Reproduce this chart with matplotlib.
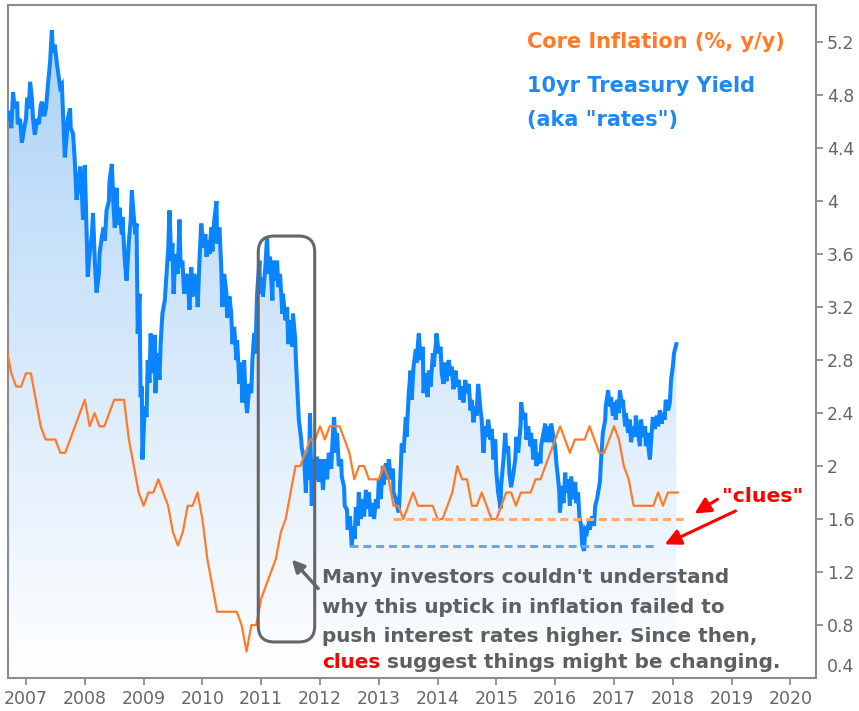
import numpy as np
import matplotlib
matplotlib.use('Agg')
import matplotlib.pyplot as plt
from matplotlib.patches import FancyBboxPatch
from matplotlib.transforms import IdentityTransform, ScaledTranslation
from matplotlib.colors import LinearSegmentedColormap

# core inflation (%, y/y), monthly, Sep 2006 .. Feb 2018
core = [2.9, 2.7, 2.6, 2.6,
        2.7, 2.7, 2.5, 2.3, 2.2, 2.2, 2.2, 2.1, 2.1, 2.2, 2.3, 2.4,   # 2007
        2.5, 2.3, 2.4, 2.3, 2.3, 2.4, 2.5, 2.5, 2.5, 2.2, 2.0, 1.8,   # 2008
        1.7, 1.8, 1.8, 1.9, 1.8, 1.7, 1.5, 1.4, 1.5, 1.7, 1.7, 1.8,   # 2009
        1.6, 1.3, 1.1, 0.9, 0.9, 0.9, 0.9, 0.9, 0.8, 0.6, 0.8, 0.8,   # 2010
        1.0, 1.1, 1.2, 1.3, 1.5, 1.6, 1.8, 2.0, 2.0, 2.1, 2.2, 2.2,   # 2011
        2.3, 2.2, 2.3, 2.3, 2.3, 2.2, 2.1, 1.9, 2.0, 2.0, 1.9, 1.9,   # 2012
        1.9, 2.0, 1.9, 1.7, 1.7, 1.6, 1.7, 1.8, 1.7, 1.7, 1.7, 1.7,   # 2013
        1.6, 1.6, 1.7, 1.8, 2.0, 1.9, 1.9, 1.7, 1.7, 1.8, 1.7, 1.6,   # 2014
        1.6, 1.7, 1.8, 1.8, 1.7, 1.8, 1.8, 1.8, 1.9, 1.9, 2.0, 2.1,   # 2015
        2.2, 2.3, 2.2, 2.1, 2.2, 2.2, 2.2, 2.3, 2.2, 2.1, 2.1, 2.2,   # 2016
        2.3, 2.2, 2.0, 1.9, 1.7, 1.7, 1.7, 1.7, 1.7, 1.8, 1.7, 1.8,   # 2017
        1.8, 1.8]                                                     # 2018
core_start = 2006 + 8 / 12.0

# 10yr treasury yield (decimal year, %)
rates_t = [2006.71, 2006.73, 2006.75, 2006.78, 2006.81, 2006.85, 2006.86, 2006.90, 2006.93, 2006.97,
           2007.00, 2007.02, 2007.05, 2007.07, 2007.10, 2007.12, 2007.15, 2007.19, 2007.22, 2007.25,
           2007.27, 2007.31, 2007.34, 2007.37, 2007.41, 2007.44, 2007.46, 2007.49, 2007.53, 2007.54,
           2007.58, 2007.61, 2007.64, 2007.66, 2007.69, 2007.71, 2007.75, 2007.76, 2007.80, 2007.83,
           2007.86, 2007.90, 2007.92, 2007.95, 2007.97, 2008.00, 2008.02, 2008.05, 2008.08, 2008.12,
           2008.14, 2008.17, 2008.20, 2008.24, 2008.25, 2008.29, 2008.32, 2008.34, 2008.37, 2008.41,
           2008.42, 2008.46, 2008.49, 2008.51, 2008.54, 2008.56, 2008.59, 2008.63, 2008.64, 2008.68,
           2008.71, 2008.75, 2008.78, 2008.80, 2008.83, 2008.86, 2008.88, 2008.90, 2008.93, 2008.95,
           2008.97, 2008.98, 2009.02, 2009.05, 2009.07, 2009.10, 2009.12, 2009.15, 2009.19, 2009.20,
           2009.24, 2009.27, 2009.29, 2009.32, 2009.36, 2009.39, 2009.42, 2009.44, 2009.47, 2009.49,
           2009.51, 2009.54, 2009.58, 2009.61, 2009.63, 2009.66, 2009.69, 2009.73, 2009.76, 2009.78,
           2009.81, 2009.83, 2009.86, 2009.90, 2009.92, 2009.95, 2009.98, 2010.02, 2010.05, 2010.07,
           2010.10, 2010.12, 2010.15, 2010.17, 2010.20, 2010.24, 2010.25, 2010.29, 2010.32, 2010.34,
           2010.37, 2010.41, 2010.42, 2010.46, 2010.49, 2010.51, 2010.54, 2010.58, 2010.59, 2010.63,
           2010.66, 2010.68, 2010.71, 2010.73, 2010.76, 2010.80, 2010.83, 2010.85, 2010.88, 2010.90,
           2010.93, 2010.97, 2010.98, 2011.02, 2011.03, 2011.07, 2011.10, 2011.12, 2011.15, 2011.19,
           2011.20, 2011.24, 2011.27, 2011.29, 2011.32, 2011.36, 2011.37, 2011.41, 2011.44, 2011.46,
           2011.49, 2011.53, 2011.54, 2011.58, 2011.59, 2011.63, 2011.64, 2011.68, 2011.69, 2011.73,
           2011.76, 2011.78, 2011.81, 2011.83, 2011.86, 2011.90, 2011.93, 2011.95, 2011.98, 2012.02,
           2012.05, 2012.08, 2012.12, 2012.15, 2012.19, 2012.22, 2012.24, 2012.27, 2012.29, 2012.32,
           2012.36, 2012.37, 2012.41, 2012.42, 2012.46, 2012.47, 2012.51, 2012.54, 2012.56, 2012.59,
           2012.61, 2012.64, 2012.66, 2012.69, 2012.73, 2012.75, 2012.78, 2012.81, 2012.83, 2012.86,
           2012.90, 2012.92, 2012.95, 2012.98, 2013.00, 2013.03, 2013.07, 2013.08, 2013.12, 2013.15,
           2013.17, 2013.20, 2013.24, 2013.25, 2013.29, 2013.32, 2013.34, 2013.37, 2013.39, 2013.42,
           2013.46, 2013.47, 2013.51, 2013.54, 2013.56, 2013.59, 2013.63, 2013.64, 2013.68, 2013.71,
           2013.75, 2013.76, 2013.80, 2013.83, 2013.85, 2013.88, 2013.92, 2013.93, 2013.97, 2013.98,
           2014.02, 2014.05, 2014.07, 2014.10, 2014.12, 2014.15, 2014.19, 2014.22, 2014.24, 2014.27,
           2014.31, 2014.32, 2014.36, 2014.39, 2014.41, 2014.44, 2014.47, 2014.49, 2014.53, 2014.56,
           2014.58, 2014.61, 2014.64, 2014.66, 2014.69, 2014.73, 2014.75, 2014.78, 2014.81, 2014.83,
           2014.86, 2014.90, 2014.92, 2014.95, 2014.98, 2015.00, 2015.03, 2015.07, 2015.08, 2015.12,
           2015.15, 2015.17, 2015.20, 2015.22, 2015.25, 2015.29, 2015.32, 2015.34, 2015.37, 2015.41,
           2015.42, 2015.46, 2015.49, 2015.51, 2015.54, 2015.58, 2015.59, 2015.63, 2015.66, 2015.68,
           2015.71, 2015.75, 2015.76, 2015.80, 2015.83, 2015.85, 2015.88, 2015.92, 2015.93, 2015.97,
           2016.00, 2016.02, 2016.05, 2016.07, 2016.08, 2016.12, 2016.14, 2016.17, 2016.19, 2016.22,
           2016.25, 2016.27, 2016.31, 2016.34, 2016.36, 2016.39, 2016.41, 2016.44, 2016.46, 2016.49,
           2016.51, 2016.54, 2016.58, 2016.59, 2016.63, 2016.66, 2016.68, 2016.71, 2016.73, 2016.76,
           2016.78, 2016.81, 2016.85, 2016.86, 2016.90, 2016.92, 2016.95, 2016.98, 2017.00, 2017.03,
           2017.05, 2017.08, 2017.10, 2017.14, 2017.15, 2017.19, 2017.20, 2017.24, 2017.27, 2017.29,
           2017.32, 2017.36, 2017.37, 2017.41, 2017.44, 2017.46, 2017.49, 2017.53, 2017.54, 2017.58,
           2017.59, 2017.61, 2017.64, 2017.66, 2017.69, 2017.73, 2017.75, 2017.78, 2017.81, 2017.83,
           2017.86, 2017.88, 2017.92, 2017.95, 2017.97, 2018.00, 2018.02, 2018.06]
rates_v = [4.62, 4.68, 4.55, 4.82, 4.70, 4.75, 4.58, 4.62, 4.44, 4.55,
           4.62, 4.78, 4.70, 4.90, 4.78, 4.62, 4.50, 4.62, 4.58, 4.72,
           4.75, 4.64, 4.70, 4.86, 5.05, 5.29, 5.12, 5.18, 5.02, 4.99,
           4.86, 4.88, 4.55, 4.33, 4.48, 4.62, 4.70, 4.55, 4.51, 4.30,
           4.01, 4.15, 4.26, 4.05, 3.86, 4.27, 3.95, 3.43, 3.60, 3.75,
           3.91, 3.55, 3.31, 3.45, 3.60, 3.73, 3.80, 3.70, 3.93, 4.00,
           4.15, 4.28, 3.95, 3.80, 4.10, 3.82, 3.95, 3.75, 3.88, 3.55,
           3.40, 3.70, 3.85, 4.08, 3.90, 3.75, 3.83, 3.00, 3.30, 2.52,
           2.60, 2.05, 2.45, 2.37, 2.80, 2.63, 3.00, 2.70, 2.99, 2.55,
           2.85, 2.65, 2.93, 3.15, 3.25, 3.45, 3.65, 3.93, 3.55, 3.68,
           3.30, 3.60, 3.45, 3.86, 3.50, 3.55, 3.30, 3.45, 3.35, 3.18,
           3.50, 3.28, 3.45, 3.38, 3.20, 3.55, 3.83, 3.65, 3.75, 3.58,
           3.70, 3.60, 3.80, 3.62, 3.85, 4.00, 3.68, 3.80, 3.50, 3.20,
           3.45, 3.30, 3.12, 3.28, 3.15, 2.92, 3.05, 2.80, 2.95, 2.62,
           2.78, 2.48, 2.80, 2.55, 2.40, 2.62, 2.55, 2.80, 3.00, 2.85,
           3.30, 3.55, 3.30, 3.42, 3.28, 3.50, 3.73, 3.45, 3.58, 3.25,
           3.55, 3.40, 3.55, 3.35, 3.45, 3.15, 3.30, 3.10, 3.20, 2.92,
           3.10, 2.90, 3.15, 2.95, 2.80, 2.45, 2.35, 2.20, 2.14, 2.05,
           1.80, 2.10, 1.90, 2.40, 1.70, 2.05, 1.90, 2.07, 1.88, 2.05,
           1.82, 2.05, 1.90, 2.10, 1.98, 2.25, 2.37, 2.10, 2.25, 2.00,
           2.05, 1.92, 1.84, 1.70, 1.67, 1.52, 1.62, 1.39, 1.54, 1.45,
           1.69, 1.55, 1.80, 1.60, 1.75, 1.62, 1.82, 1.68, 1.80, 1.62,
           1.72, 1.60, 1.75, 1.68, 1.90, 1.75, 2.00, 1.86, 2.02, 1.90,
           2.05, 1.90, 1.98, 1.80, 1.75, 1.68, 1.65, 1.95, 2.17, 2.10,
           2.37, 2.22, 2.55, 2.72, 2.50, 2.75, 2.88, 2.78, 3.00, 2.80,
           2.90, 2.55, 2.70, 2.52, 2.72, 2.60, 2.85, 2.75, 2.92, 3.00,
           2.85, 2.90, 2.70, 2.62, 2.78, 2.64, 2.80, 2.68, 2.75, 2.58,
           2.72, 2.60, 2.65, 2.50, 2.60, 2.48, 2.65, 2.55, 2.62, 2.42,
           2.50, 2.33, 2.45, 2.38, 2.62, 2.42, 2.35, 2.10, 2.30, 2.22,
           2.35, 2.20, 2.28, 2.05, 2.20, 1.95, 1.80, 1.68, 1.85, 2.05,
           2.25, 2.10, 2.15, 1.95, 1.84, 1.95, 2.05, 2.22, 2.10, 2.30,
           2.48, 2.35, 2.40, 2.20, 2.30, 2.15, 2.25, 2.05, 2.20, 2.00,
           2.10, 2.02, 2.15, 2.25, 2.32, 2.18, 2.30, 2.18, 2.32, 2.22,
           2.14, 2.02, 1.90, 1.80, 1.65, 1.85, 1.72, 1.95, 1.80, 1.90,
           1.70, 1.92, 1.75, 1.88, 1.72, 1.80, 1.62, 1.55, 1.40, 1.36,
           1.52, 1.50, 1.60, 1.52, 1.62, 1.55, 1.70, 1.75, 1.80, 1.88,
           2.05, 2.25, 2.35, 2.45, 2.57, 2.45, 2.52, 2.38, 2.48, 2.35,
           2.50, 2.40, 2.57, 2.45, 2.50, 2.30, 2.40, 2.25, 2.35, 2.18,
           2.30, 2.22, 2.38, 2.25, 2.15, 2.35, 2.22, 2.30, 2.15, 2.25,
           2.12, 2.05, 2.25, 2.37, 2.28, 2.38, 2.30, 2.42, 2.32, 2.40,
           2.35, 2.50, 2.42, 2.48, 2.65, 2.75, 2.85, 2.92]

year_ticks = list(range(2007, 2021))
rate_ticks = [0.4, 0.8, 1.2, 1.6, 2.0, 2.4, 2.8, 3.2, 3.6, 4.0, 4.4, 4.8, 5.2]

# "clues" reference levels
core_floor = 1.6
rates_floor = 1.4

ORANGE = '#FF7A29'
BLUE = '#0A84FF'
GRAY = '#5f5f5f'

plt.rcParams['font.family'] = ['DejaVu Sans']

fig = plt.figure(figsize=(8.59, 7.11), dpi=100)
ax = fig.add_axes([8 / 859, 1 - 678 / 711, 808 / 859, 673 / 711])
ax.set_xlim(2006.694, 2020.435)
ax.set_ylim(0.4, 5.48)

core_t = core_start + np.arange(len(core)) / 12.0

# gradient fill under the yield line
cmap = LinearSegmentedColormap.from_list('fill', ['#ffffff', '#aad1f7'])
grad = np.linspace(0, 1, 256).reshape(-1, 1)
img = ax.imshow(grad, cmap=cmap, origin='lower', aspect='auto',
                extent=[2006.694, 2020.435, 0.4, 5.48], zorder=1)
poly = ax.fill_between(rates_t, rates_v, 0.4, color='none', lw=0)
img.set_clip_path(poly.get_paths()[0], transform=ax.transData)

ax.plot(rates_t, rates_v, color=BLUE, lw=2.9, solid_joinstyle='miter', zorder=3)
ax.plot(core_t, core, color=ORANGE, lw=1.6, zorder=4)

# dashed "floor" lines
ax.plot([2013.24, 2018.26], [core_floor, core_floor], color='#FBAA72',
        lw=2.2, ls=(0, (2.6, 1.6)), zorder=5)
ax.plot([2012.51, 2017.70], [rates_floor, rates_floor], color='#5DAAF7',
        lw=2.2, ls=(0, (2.6, 1.6)), zorder=5)

# axes styling
for s in ax.spines.values():
    s.set_color('#8c8c8c')
    s.set_linewidth(1.5)
ax.yaxis.tick_right()
ax.set_yticks(rate_ticks)
ax.set_yticklabels(['%g' % v for v in rate_ticks])
ax.set_xticks(year_ticks)
ax.set_xticklabels([str(y) for y in year_ticks])
ax.tick_params(axis='both', colors='#8c8c8c', labelcolor='#666666', labelsize=12.5,
               length=5, width=1.3, direction='out')
ax.tick_params(axis='y', pad=3)
ax.tick_params(axis='x', pad=4)

# bottom label sits a bit higher and has no tick mark
t0 = ax.yaxis.get_major_ticks()[0]
t0.tick2line.set_visible(False)
t0.label2.set_transform(t0.label2.get_transform() +
                        ScaledTranslation(0, 13 / 100, fig.dpi_scale_trans))

# legend texts
ax.text(2015.52, 5.2, 'Core Inflation (%, y/y)', color=ORANGE, fontsize=15,
        fontweight='bold', va='center', ha='left')
ax.text(2015.52, 4.87, '10yr Treasury Yield', color='#1E88F5', fontsize=15,
        fontweight='bold', va='center', ha='left')
ax.text(2015.52, 4.61, '(aka "rates")', color='#1E88F5', fontsize=15,
        fontweight='bold', va='center', ha='left')

# rounded box around 2011
x0, y0 = ax.transData.transform((2010.95, 0.672))
x1, y1 = ax.transData.transform((2011.91, 3.736))
box = FancyBboxPatch((x0, y0), x1 - x0, y1 - y0,
                     boxstyle='round,pad=0,rounding_size=16',
                     transform=IdentityTransform(), fill=False,
                     ec='#666666', lw=2.2, zorder=6)
fig.add_artist(box)

ax.annotate('', xy=(2011.49, 1.31), xytext=(2012.0, 1.06),
            arrowprops=dict(arrowstyle='-|>', color='#666666', lw=2.5,
                            mutation_scale=18), zorder=7)

lines = ["Many investors couldn't understand",
         "why this uptick in inflation failed to",
         "push interest rates higher. Since then,"]
baselines = [1.117, 0.891, 0.672]
for s, yb in zip(lines, baselines):
    ax.text(2012.03, yb, s, color=GRAY, fontsize=14.4, fontweight='bold',
            va='baseline', ha='left', zorder=8)
tc = ax.text(2012.03, 0.475, 'clues', color='#FF0000', fontsize=14.4,
             fontweight='bold', va='baseline', ha='left', zorder=8)
ax.annotate(' suggest things might be changing.', xy=(1, 0), xycoords=tc,
            va='bottom', ha='left', color=GRAY, fontsize=14.4,
            fontweight='bold', zorder=8)

# red "clues" pointers
ax.text(2019.52, 1.77, '"clues"', color='#FF0000', fontsize=14.7,
        fontweight='bold', va='center', ha='center', zorder=8)
ax.annotate('', xy=(2018.33, 1.63), xytext=(2018.80, 1.76),
            arrowprops=dict(arrowstyle='-|>', color='#FF0000', lw=2.2,
                            mutation_scale=24), zorder=8)
ax.annotate('', xy=(2017.82, 1.40), xytext=(2019.11, 1.67),
            arrowprops=dict(arrowstyle='-|>', color='#FF0000', lw=2.2,
                            mutation_scale=24), zorder=8)

fig.savefig('out.png', dpi=100)
